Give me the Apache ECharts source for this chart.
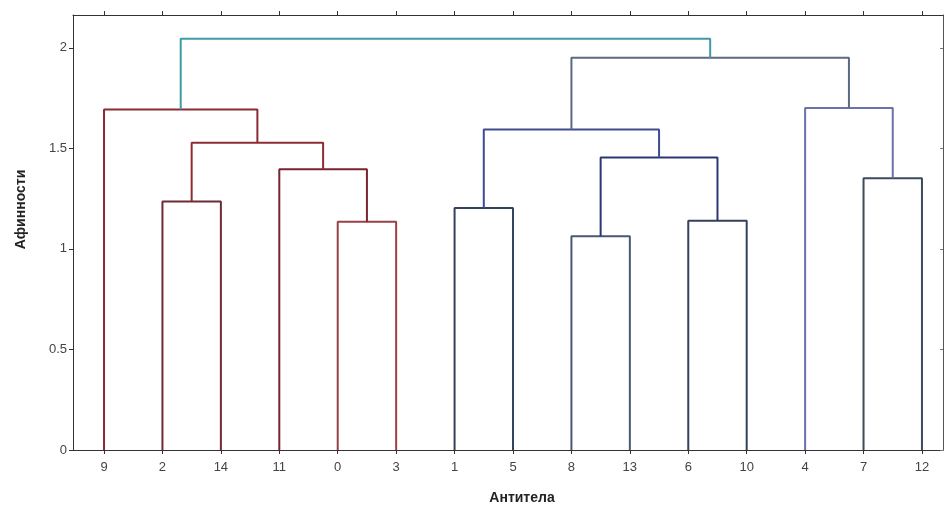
<!DOCTYPE html>
<html>
<head>
<meta charset="utf-8">
<script src="https://cdn.jsdelivr.net/npm/echarts@6/dist/echarts.min.js"></script>
<style>
  html, body { margin: 0; padding: 0; background: #fff; }
  #chart { width: 944px; height: 510px; }
</style>
</head>
<body>
<div id="chart"></div>
<script>
// leaf labels, left to right
var leaves = ['9', '2', '14', '11', '0', '3', '1', '5', '8', '13', '6', '10', '4', '7', '12'];

// linkage: node ids 0..14 are leaves, every merge creates node 15, 16, ...
var mergeLeft   = [1, 4, 3, 15, 0, 6, 8, 10, 21, 20, 13, 12, 24, 19];
var mergeRight  = [2, 5, 16, 17, 18, 7, 9, 11, 22, 23, 14, 25, 26, 27];
var mergeHeight = [1.236, 1.135, 1.396, 1.528, 1.693, 1.203, 1.063, 1.140, 1.454, 1.594, 1.351, 1.701, 1.951, 2.045];
var mergeColor  = ['#6e2a36', '#9a4048', '#7a2430', '#8e2c33', '#8a2a34',
                   '#34425e', '#4a5878', '#33405e', '#2c3672', '#3e4c92',
                   '#3c4a5c', '#6a72aa', '#5c6a80', '#3f9aa8'];

var yTicks = [0, 0.5, 1, 1.5, 2];

var chart = echarts.init(document.getElementById('chart'));

// x position / height of every node
var nodeX = leaves.map(function (l, i) { return i; });
var nodeY = leaves.map(function () { return 0; });
mergeLeft.forEach(function (a, k) {
    var b = mergeRight[k];
    nodeX.push((nodeX[a] + nodeX[b]) / 2);
    nodeY.push(mergeHeight[k]);
});

var series = mergeLeft.map(function (a, k) {
    var b = mergeRight[k];
    var h = mergeHeight[k];
    return {
        type: 'line',
        symbol: 'none',
        silent: true,
        lineStyle: { color: mergeColor[k], width: 2 },
        data: [[nodeX[a], nodeY[a]], [nodeX[a], h], [nodeX[b], h], [nodeX[b], nodeY[b]]]
    };
});

var leafIdx = leaves.map(function (l, i) { return i; });
var labelFont = { color: '#444', fontSize: 13, fontFamily: 'Liberation Sans' };

var option = {
    animation: false,
    grid: { left: 73, right: 1, top: 15, bottom: 58 },
    xAxis: [{
        type: 'value',
        min: -0.531,
        max: 14.36,
        position: 'bottom',
        splitLine: { show: false },
        axisLine: { onZero: false, lineStyle: { color: '#333', width: 1 } },
        axisTick: { customValues: leafIdx, length: 4, lineStyle: { color: '#333' } },
        axisLabel: Object.assign({
            customValues: leafIdx,
            margin: 11,
            formatter: function (v) { return leaves[Math.round(v)]; }
        }, labelFont),
        name: 'Антитела',
        nameLocation: 'middle',
        nameGap: 41,
        nameTextStyle: { fontSize: 14, fontWeight: 'bold', color: '#222', fontFamily: 'Liberation Sans', padding: [0, 0, 0, 28] }
    }, {
        type: 'value',
        min: -0.531,
        max: 14.36,
        position: 'top',
        splitLine: { show: false },
        axisLine: { show: true, onZero: false, lineStyle: { color: '#333', width: 1 } },
        axisTick: { show: true, customValues: leafIdx, length: 4, lineStyle: { color: '#333' } },
        axisLabel: { show: false }
    }],
    yAxis: [{
        type: 'value',
        min: 0,
        max: 2.163,
        position: 'left',
        splitLine: { show: false },
        axisLine: { show: true, onZero: false, lineStyle: { color: '#333', width: 1 } },
        axisTick: { show: true, customValues: yTicks, length: 4, lineStyle: { color: '#333' } },
        axisLabel: Object.assign({ customValues: yTicks, margin: 6 }, labelFont),
        name: 'Афинности',
        nameLocation: 'middle',
        nameGap: 45,
        nameRotate: 90,
        nameTextStyle: { fontSize: 14, fontWeight: 'bold', color: '#222', fontFamily: 'Liberation Sans', padding: [0, 0, 0, 46] }
    }, {
        type: 'value',
        min: 0,
        max: 2.163,
        position: 'right',
        splitLine: { show: false },
        axisLine: { show: true, onZero: false, lineStyle: { color: '#555', width: 1 } },
        axisTick: { show: true, inside: true, customValues: yTicks, length: 3, lineStyle: { color: '#777' } },
        axisLabel: { show: false }
    }],
    series: series
};

chart.setOption(option);
</script>
</body>
</html>
